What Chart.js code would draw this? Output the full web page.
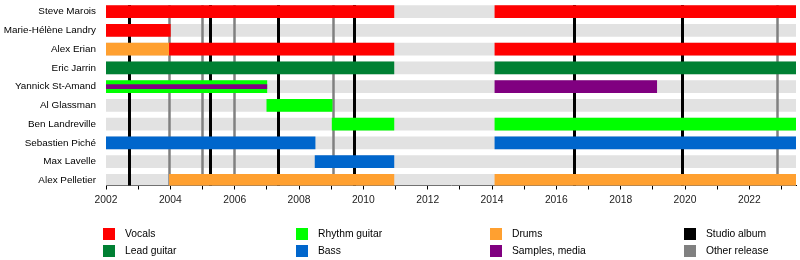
<!DOCTYPE html>
<html>
<head>
<meta charset="utf-8">
<script src="https://cdn.jsdelivr.net/npm/chart.js@4/dist/chart.umd.min.js"></script>
<style>
    body { margin: 0; background: #fff; }
    #wrap { position: relative; width: 800px; height: 260px; }
    .legend-item { position: absolute; font: 10.3px "Liberation Sans", Arial, sans-serif; color: #000; line-height: 12px; }
    .legend-item span { position: absolute; left: 0; top: 0; width: 12px; height: 12px; }
    .legend-item b { position: absolute; top: 0; font-weight: normal; white-space: nowrap; }
</style>
</head>
<body>
<div id="wrap">
    <canvas id="timeline" width="800" height="260"></canvas>
    <div id="legend"></div>
</div>
<script>
// Band members, top to bottom
const members = ['Steve Marois', 'Marie-Hélène Landry', 'Alex Erian', 'Eric Jarrin', 'Yannick St-Amand',
    'Al Glassman', 'Ben Landreville', 'Sebastien Piché', 'Max Lavelle', 'Alex Pelletier'];

const timelineStart = 2002;
const timelineEnd = 2023.45;

// [member index, from, to]
const vocals = [[0, 2002, 2010.95], [0, 2014.09, 2023.45], [1, 2002, 2004], [2, 2003.97, 2010.95], [2, 2014.09, 2023.45]];
const leadGuitar = [[3, 2002, 2010.95], [3, 2014.09, 2023.45]];
const rhythmGuitar = [[4, 2002, 2007], [5, 2007, 2009.03], [6, 2009.03, 2010.95], [6, 2014.09, 2023.45]];
const bass = [[7, 2002, 2008.5], [7, 2014.09, 2023.45], [8, 2008.5, 2010.95]];
const drums = [[2, 2002, 2003.97], [9, 2003.97, 2010.95], [9, 2014.09, 2023.45]];
const samples = [[4, 2014.09, 2019.12]];
const samplesStripe = [[4, 2002, 2007]];

// Release dates
const studioAlbums = [2002.71, 2005.24, 2007.35, 2009.71, 2016.56, 2019.92];
const otherReleases = [2003.96, 2004.99, 2005.98, 2009.06, 2022.87];

const colors = {
    vocals: '#ff0000',
    lead: '#008033',
    rhythm: '#00ff00',
    bass: '#0066cc',
    drums: '#ffa030',
    samples: '#800080',
    studio: '#000000',
    other: '#808080',
    row: '#e2e2e2'
};

const legendItems = [
    ['Vocals', colors.vocals], ['Lead guitar', colors.lead],
    ['Rhythm guitar', colors.rhythm], ['Bass', colors.bass],
    ['Drums', colors.drums], ['Samples, media', colors.samples],
    ['Studio album', colors.studio], ['Other release', colors.other]
];

const labelFont = { family: 'Liberation Sans', size: 10.3 };
const nameFont = { family: 'Liberation Sans', size: 9.9 };

function toBars(spans) {
    return spans.map(s => ({ x: [s[1], s[2]], y: s[0] }));
}

function barSet(label, spans, color, order, thickness) {
    return {
        label: label,
        data: toBars(spans),
        backgroundColor: color,
        borderWidth: 0,
        borderSkipped: false,
        grouped: false,
        barThickness: thickness || 12,
        order: order
    };
}

// Release lines go between the grey rows and the role bars
const releaseLines = {
    id: 'releaseLines',
    afterDatasetDraw(chart, args) {
        if (args.index !== 0) return;
        const ctx = chart.ctx;
        const xs = chart.scales.x;
        const area = chart.chartArea;
        ctx.save();
        const draw = (years, color, width) => {
            ctx.strokeStyle = color;
            ctx.lineWidth = width;
            years.forEach(y => {
                const px = Math.round(xs.getPixelForValue(y)) + 0.5;
                ctx.beginPath();
                ctx.moveTo(px, area.top);
                ctx.lineTo(px, area.bottom);
                ctx.stroke();
            });
        };
        draw(otherReleases, colors.other, 2.5);
        draw(studioAlbums, colors.studio, 3);
        ctx.restore();
    }
};

function renderTimeline() {
    const ctx = document.getElementById('timeline').getContext('2d');
    const rows = members.map((m, i) => [i, timelineStart, timelineEnd]);

    new Chart(ctx, {
        type: 'bar',
        data: {
            datasets: [
                barSet('rows', rows, colors.row, 10),
                barSet('Vocals', vocals, colors.vocals, 2),
                barSet('Lead guitar', leadGuitar, colors.lead, 2),
                barSet('Rhythm guitar', rhythmGuitar, colors.rhythm, 2),
                barSet('Bass', bass, colors.bass, 2),
                barSet('Drums', drums, colors.drums, 2),
                barSet('Samples, media', samples, colors.samples, 2),
                barSet('Samples stripe', samplesStripe, colors.samples, 1, 4)
            ]
        },
        options: {
            indexAxis: 'y',
            responsive: false,
            animation: false,
            layout: { padding: { top: 5, right: 4, bottom: 54.5, left: 0 } },
            plugins: {
                legend: { display: false },
                tooltip: { enabled: false }
            },
            scales: {
                x: {
                    type: 'linear',
                    min: timelineStart,
                    max: timelineEnd,
                    offset: false,
                    afterBuildTicks: scale => {
                        const t = [];
                        for (let y = 2002; y <= 2023; y++) t.push({ value: y });
                        scale.ticks = t;
                    },
                    afterFit: scale => {
                        scale.height = 20;
                        scale.paddingLeft = 0;
                        scale.paddingRight = 0;
                    },
                    grid: { drawOnChartArea: false, tickLength: 4, color: '#000' },
                    border: { color: '#000', width: 1 },
                    ticks: {
                        padding: 4,
                        maxRotation: 0,
                        autoSkip: false,
                        color: '#222',
                        font: labelFont,
                        callback: v => (v % 2 === 0 ? String(v) : '')
                    }
                },
                y: {
                    type: 'linear',
                    reverse: true,
                    offset: false,
                    min: -0.35,
                    max: 9.27,
                    afterBuildTicks: scale => {
                        scale.ticks = members.map((m, i) => ({ value: i }));
                    },
                    afterFit: scale => {
                        scale.width = 106;
                        scale.paddingTop = 0;
                        scale.paddingBottom = 0;
                    },
                    grid: { display: false, drawTicks: false, offset: false },
                    border: { display: false },
                    ticks: {
                        padding: 10,
                        autoSkip: false,
                        color: '#000',
                        font: nameFont,
                        callback: v => members[v]
                    }
                }
            }
        },
        plugins: [releaseLines]
    });
}

function renderLegend() {
    const container = document.getElementById('legend');
    const swatchX = [103, 296, 490, 684];
    const rowY = [228, 245];
    container.innerHTML = legendItems.map((item, i) => `
        <div class="legend-item" style="left:${swatchX[Math.floor(i / 2)]}px; top:${rowY[i % 2]}px;">
            <span style="background:${item[1]}"></span><b style="left:22px">${item[0]}</b>
        </div>
    `).join('');
}

renderTimeline();
renderLegend();
</script>
</body>
</html>
